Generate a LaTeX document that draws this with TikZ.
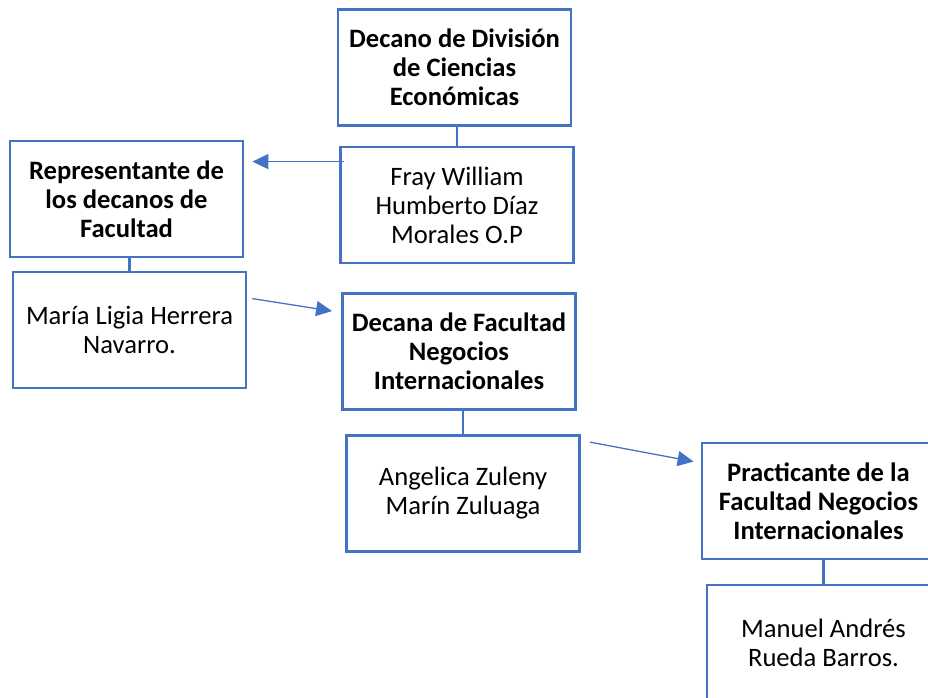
\documentclass[tikz,border=0pt]{standalone}
\usepackage{fontspec}
\setmainfont{Carlito}
\usepackage{tikz}
\usetikzlibrary{positioning, calc, arrows.meta}
\definecolor{azul}{HTML}{4472C4}

\begin{document}
\begin{tikzpicture}[x=1pt, y=-1pt]
		\tikzstyle{puesto}=[draw=azul, line width=2.8pt, minimum width=233pt, minimum height=116pt, inner sep=0pt, align=center, text=black, font=\fontsize{26.6}{29}\selectfont\bfseries]
		\tikzstyle{persona}=[puesto, font=\fontsize{26.6}{29}\selectfont]
		\tikzstyle{enlace}=[draw=azul, line width=2.8pt]
		\tikzstyle{flecha}=[draw=azul, line width=1.3pt, -{Triangle[length=16pt, width=15pt]}]

		\useasboundingbox (0,0) rectangle (928,698);

		\node (decdiv) at (454.5,67.5) [puesto] {Decano de División\\de Ciencias\\Económicas};
		\node (fray) at (457,205) [persona] {Fray William\\Humberto Díaz\\Morales O.P};

		\node (repr) at (126.5,199) [puesto] {Representante de\\los decanos de\\Facultad};
		\node (maria) at (129.5,330) [persona] {María Ligia Herrera\\Navarro.};

		\node (decana) at (459,351.5) [puesto] {Decana de Facultad\\Negocios\\Internacionales};
		\node (angelica) at (463,493.5) [persona] {Angelica Zuleny\\Marín Zuluaga};

		\node (pract) at (818.5,501) [puesto] {Practicante de la\\Facultad Negocios\\Internacionales};
		\node (manuel) at (823.5,643) [persona] {Manuel Andrés\\Rueda Barros.};

		% cargo -- persona
		\draw [enlace] (fray.north) -- (fray.north |- decdiv.south);
		\draw [enlace] (maria.north) -- (maria.north |- repr.south);
		\draw [enlace] (angelica.north) -- (angelica.north |- decana.south);
		\draw [enlace] (manuel.north) -- (manuel.north |- pract.south);

		\draw [flecha] ($(fray.north west)+(5,16)$) -- ($(repr.north east)+(8,22)$);
		\draw [flecha] ($(maria.north east)+(5,28)$) -- ($(decana.north west)+(-9,19)$);
		\draw [flecha] ($(angelica.north east)+(9,8)$) -- ($(pract.north west)+(-7,20)$);
\end{tikzpicture}
\end{document}
